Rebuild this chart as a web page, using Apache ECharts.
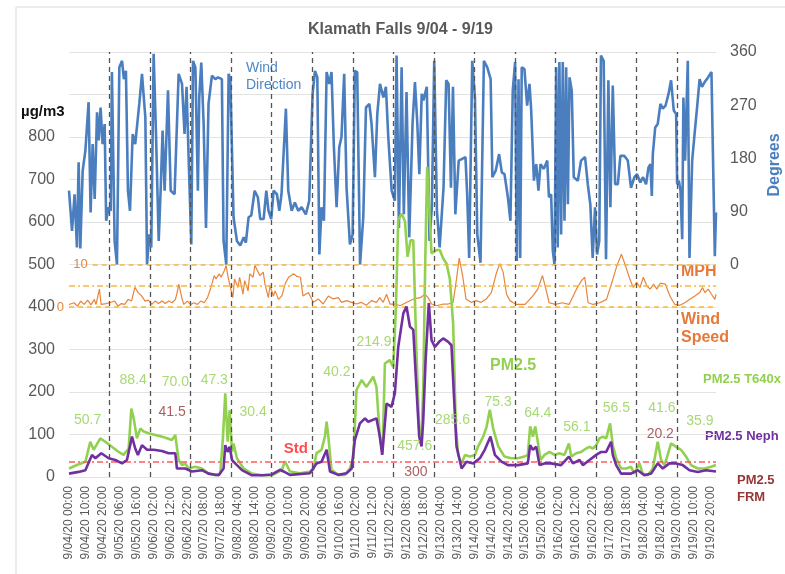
<!DOCTYPE html>
<html>
<head>
<meta charset="utf-8">
<script src="https://cdn.jsdelivr.net/npm/echarts@6/dist/echarts.min.js"></script>
<style>html,body{margin:0;padding:0;background:#fff}#c{width:785px;height:574px}</style>
</head>
<body>
<div id="c"></div>
<script>
// Hours since 9/04/20 00:00 and values
const windDir = [[0,125],[1.8,57],[3.3,119],[4.7,29],[5.7,173],[6.7,27],[8.1,159],[9.7,193],[11.6,275],[12.8,88],[14,204],[15.2,111],[16.6,258],[17.6,210],[18.7,266],[19.9,204],[21.1,238],[22,74],[23.5,97],[24.7,91],[25.4,326],[27,40],[28.4,0],[29.8,334],[31.4,345],[32.5,314],[33.7,328],[34.9,125],[36.1,91],[37.7,221],[39.2,204],[41.6,272],[43.2,323],[45.2,249],[46.2,0],[47.5,51],[48.7,29],[50.1,357],[51.5,221],[53.1,40],[54.3,130],[55.4,227],[56.6,125],[58.6,295],[60.2,125],[62.5,119],[64.9,323],[66.9,306],[68.4,221],[69.6,301],[70.8,182],[72.4,34],[73.4,345],[74.8,334],[76.3,125],[77.1,283],[78.3,342],[79.7,238],[81.1,62],[82.6,272],[84.6,320],[86.6,314],[88.2,317],[90.5,314],[91.5,40],[93.1,0],[94.5,323],[95.5,314],[97.4,80],[99.4,40],[101.4,32],[103.4,46],[104.7,37],[106.3,80],[107.9,83],[109.9,125],[111.8,114],[113.2,77],[115.2,77],[116.8,125],[118.1,91],[119.7,77],[121.1,125],[123.1,119],[124.5,91],
[125.8,119],[128.4,264],[129.8,125],[131.8,91],[133.7,105],[135.7,91],[137.7,97],[140.2,85],[142.2,108],[144.2,289],[145.6,328],[147,317],[148.2,17],[149.5,97],[150.9,74],[152.5,326],[154.1,306],[155.4,326],[156.8,199],[158.4,97],[160,199],[161.3,216],[162.9,323],[164.3,130],[166.3,34],[167.9,51],[169.2,328],[170.6,326],[172.3,0],[174.2,80],[175.8,266],[177.8,272],[179.1,238],[181.1,148],[182.5,255],[184.1,306],[186.1,283],[187.6,301],[189,216],[191,125],[192.9,108],[193.9,354],[195.3,62],[196.9,334],[198.2,85],[199.8,292],[201.4,46],[203.4,241],[204.8,309],[206.2,238],[207.4,153],[208.8,289],[209.8,278],[211.8,301],[213.4,40],[214.8,97],[216.2,345],[217.8,91],[219.4,29],[221.7,130],[223.3,312],[224.7,306],[226.1,130],[227.3,301],[228.7,85],[230.7,176],[232.7,179],[234.7,182],[235.7,119],[236.9,11],[238.7,345],[240.3,283],[241.7,51],[243.6,3],[245.6,345],[247.6,334],[249.6,314],[250.6,148],[252.6,159],[254.6,187],[256.2,156],
[257.8,153],[259.8,114],[261.3,74],[262.7,295],[264.1,343],[265.1,6],[266.1,314],[267.1,11],[268,334],[269.6,331],[271.2,269],[272.6,306],[273.6,261],[275.2,142],[276.6,170],[277.9,125],[279.1,170],[281.1,162],[283.1,176],[284.1,114],[285.4,119],[286.4,23],[287.4,0],[288.4,334],[289.3,29],[290.3,343],[291.3,51],[292.3,343],[293.3,74],[294.3,334],[295.3,102],[296.3,317],[297.6,295],[298.8,148],[301.2,142],[303.1,176],[305.5,182],[307.1,136],[308.6,102],[310,11],[311.4,97],[312.6,17],[313.9,40],[314.9,354],[316.5,345],[317.9,9],[319.3,312],[320.5,97],[321.9,303],[323.3,136],[324.9,136],[326.4,184],[328.8,184],[330.8,176],[332.7,130],[334.7,148],[336.3,153],[338.2,139],[339.8,148],[341.6,136],[343,164],[344.2,170],[345,116],[345.6,187],[347,232],[348.5,238],[350.1,272],[351.5,264],[353.1,269],[354.9,289],[356.4,312],[358,261],[359.4,255],[360,136],[361,142],[362,125],[363,43],[363.7,283],[364.7,176],[366.3,345],[367.3,11],[368.9,176],[370.3,221],[371.9,269],[373.3,314],[374.7,301],[376.3,309],[378.3,317],[380.3,326],[381.3,323],[382.3,14],[383,88]];

const windSpeed = [[0,0.6],[3,1.0],[5,0.2],[7,1.4],[9,0.6],[11,1.6],[13,0.5],[15,1.8],[16,0.6],[18,4.2],[19,0.6],[22,0.8],[24,1.0],[25,0.6],[27,1.4],[29,0.2],[31,0.8],[33,0.6],[35,1.8],[37,1.4],[39,4.6],[41,3.4],[43,2.6],[45,1.4],[47,1.6],[49,0.6],[51,1.4],[53,0.8],[55,1.4],[57,0.8],[59,1.4],[61,1.0],[63,1.8],[64,3.4],[65,5.4],[67,1.8],[68,0.6],[70,1.4],[72,0.6],[74,1.0],[76,0.6],[78,1.4],[80,1.0],[82,2.2],[84,4.6],[86,7.4],[87,6.6],[89,7.8],[90,7.0],[92,8.6],[93,9.8],[94,7.4],[96,3.8],[97,2.2],[98,6.6],[100,4.6],[101,7.0],[103,3.0],[104,6.2],[106,3.8],[107,7.8],[109,7.0],[110,9.8],[112,8.2],[113,7.4],[115,8.2],[116,5.4],[118,2.2],[119,5.0],[121,2.6],[122,3.8],[124,1.8],[126,2.6],[128,5.5],[130,7.0],[133,7.8],[135,7.2],[137,7.0],[138.5,2.6],[141.7,3.4],[144.6,1.1],[147.5,1.9],[150.5,0.7],[153.5,2.6],[156.4,1.9],[159.4,2.2],[161.3,1.1],[164.3,1.5],[167.3,1.1],[170.2,0.7],[173,1.1],[176,0.4],[179,1.5],[182,1.1],[184,2.2],[186,1.1],[188,3.0],[190,0.7],[193,0.7],[196,0.3],[200,1.1],[204,1.9],[208,2.2],[210.7,3.0],[212.6,2.2],[214.6,0.7],[217.6,0.3],[221.5,0.7],[224.5,0.7],[227.4,1.1],[229.4,6.6],[231,11.5],[233,7.4],[235,1.9],[238,1.1],[241,1.5],[244,1.1],[247,1.9],[250,3.4],[253,8.0],[255,10.2],[257,8.2],[259,3.0],[261,1.5],[263,1.0],[265,0.6],[270,0.6],[274.6,2.6],[277.5,4.2],[280.3,7.4],[282.3,4.2],[284.2,1.0],[288,0.6],[292,1.0],[296,0.6],[300.4,4.2],[303.4,6.2],[305.3,7.0],[307.3,1.0],[310.3,0.6],[314.2,1.0],[318.2,1.8],[322,6.6],[324.4,9.8],[327,12.4],[329,10.2],[332,6.6],[334,4.6],[336,5.8],[338,4.6],[340,7.0],[342,5.0],[344,4.2],[346,5.4],[348,4.2],[350,5.6],[353,5.4],[355.7,2.6],[358.6,0.6],[361.6,0.4],[364.5,1.0],[367.5,1.8],[370.5,2.6],[373.4,3.4],[375,4.6],[376.4,3.4],[378.4,4.2],[380.3,3.0],[382.3,1.8],[383,3.0]];

const pmT640x = [[0,20],[5.7,30],[9.7,36],[12.6,83],[14.6,64],[18.5,91],[21.5,83],[25.4,71],[29.4,59],[32.3,52],[35.3,67],[36.9,161],[38.3,138],[40.2,91],[42.2,114],[44.2,107],[47.1,103],[51.1,99],[55,95],[58,91],[60.9,87],[62.9,99],[64.9,40],[66.9,28],[68.8,32],[70.8,20],[74.8,24],[78.7,20],[82.6,8],[86.6,4],[89.5,8],[91.1,91],[92.5,197],[93.9,83],[95.1,157],[96.5,59],[97.4,79],[99.4,44],[103.4,20],[108.3,8],[114.2,4],[120.1,4],[126,16],[127.8,37],[130.8,13],[136.7,9],[142.6,13],[144.6,17],[146.5,56],[149.5,64],[151.5,95],[152.5,130],[153.5,95],[155.4,17],[159.4,5],[163.3,5],[166.3,20],[168.3,44],[170.2,205],[173.2,228],[176.1,212],[180.1,236],[182,212],[184,95],[185.6,56],[187,267],[189.9,275],[191.9,259],[193.5,393],[194.9,605],[196.9,620],[198.9,601],[200.4,518],[202.2,557],[203.8,557],[205.7,290],[207.3,110],[208.7,95],[209.7,212],[210.9,510],[212,730],[213,652],[214.6,526],[217.6,534],[219.5,534],[221.5,514],[223.5,502],[225.4,467],[227.4,361],[229,118],[230.4,52],[232.4,32],[234.4,52],[237.3,48],[240.3,52],[242.2,72],[245.2,95],[247.2,118],[249.1,158],[251.1,114],[254.1,72],[257.8,48],[261.7,44],[265.7,44],[269.6,48],[271.6,52],[273,119],[274.6,95],[276,119],[277.5,83],[279.1,40],[281.5,52],[284.4,59],[287.4,52],[290.3,56],[293.3,52],[295.9,79],[297.3,48],[300.2,56],[303.2,59],[306.1,67],[308.1,71],[310.1,67],[312.1,75],[314,91],[316,95],[318,91],[320.3,126],[321.9,75],[323.9,44],[326.8,20],[329.8,20],[332.7,24],[334.7,8],[337.7,32],[339.6,8],[342.6,4],[345.6,20],[348.5,83],[350.5,40],[352.5,28],[354.4,52],[356.4,79],[359.4,71],[362.3,64],[365.3,48],[368.2,28],[372.2,20],[376.1,20],[380.1,24],[383,28]];

const pmNeph = [[0,8],[5.7,12],[9.7,16],[13.6,52],[15.6,44],[19.1,56],[23.5,44],[27.4,40],[31.4,32],[34.3,40],[37.3,95],[39.2,67],[40.8,52],[43.2,75],[46.2,64],[50.1,64],[55,61],[59,56],[62.9,56],[63.9,20],[68.8,20],[72.8,13],[78.7,16],[82.6,8],[88.6,4],[91.5,20],[92.5,75],[93.9,59],[95.1,71],[96.5,40],[98.4,32],[102.4,16],[108.3,4],[114.2,4],[120.1,6],[124.9,17],[127,13],[130.8,5],[142.6,9],[146.5,32],[149.5,36],[152.5,64],[154.5,13],[159.4,5],[164.3,9],[167.3,20],[169.2,87],[172.2,126],[175.2,138],[177.1,130],[182,138],[184,95],[185.4,52],[188,173],[190.9,165],[192.9,197],[194.9,306],[197.9,385],[199.8,401],[201.8,354],[203.8,346],[205.3,236],[207.3,95],[208.7,72],[209.7,134],[211.1,275],[213,409],[214.6,322],[216.6,306],[219.1,318],[221.5,326],[224.5,318],[226.4,310],[227.8,197],[229.4,72],[232.4,20],[235.3,36],[239.3,32],[243.2,44],[246.1,64],[249.5,95],[252.1,52],[256,36],[259.8,28],[265.7,28],[271.6,32],[273,75],[274.6,64],[276.6,71],[278.5,28],[281.5,32],[285.4,32],[291.3,28],[295.9,48],[298.3,32],[302.2,40],[304.2,28],[308.1,40],[312.1,52],[315,59],[318,59],[320.9,83],[321.9,52],[323.9,28],[326.8,8],[332.7,8],[336.7,16],[340.6,4],[344.6,8],[348.5,32],[351.5,20],[355.4,32],[359.4,32],[363.3,28],[367.3,16],[372.2,12],[377.1,16],[383,13]];

// Daily average annotations [hour, y-position value, text]
const t640Labels = [[11,134,'50.7'],[38,228,'88.4'],[63,224,'70.0'],[86,228,'47.3'],[109,153,'30.4'],[158.6,247,'40.2'],[180.5,318,'214.9'],[204.7,73,'457.6'],[227,134,'285.6'],[254,177,'75.3'],[277.5,150,'64.4'],[300.6,118,'56.1'],[324,162,'56.5'],[351,162,'41.6'],[373.5,132,'35.9']];
const frmLabels = [[61,153,'41.5'],[205.3,12,'300'],[350,101,'20.2']];
const stdLabel = [[134.3,66,'Std']];
const pmStandard = 35;
const mphLines = [0, 5, 10];
const startDay = 4;
const numDays = 16;

const pad = n => (n < 10 ? '0' : '') + n;
const dayLines = [];
for (let d = 1; d < numDays; d++) dayLines.push({ xAxis: d * 24 });

const chart = echarts.init(document.getElementById('c'), null, { renderer: 'canvas' });
const FONT = 'Liberation Sans, Arial, sans-serif';
const labelSeries = (arr, color, size, weight, z) => ({
  type: 'scatter', data: arr, symbolSize: 1, silent: true, z: z || 10,
  itemStyle: { color: 'rgba(0,0,0,0)' },
  label: { show: true, position: 'inside', formatter: p => p.data[2], color: color, fontSize: size, fontWeight: weight, fontFamily: FONT }
});

chart.setOption({
  animation: false,
  title: { text: 'Klamath Falls 9/04 - 9/19', left: 303, top: 17, textStyle: { fontSize: 16, fontWeight: 'bold', color: '#595959', fontFamily: FONT } },
  grid: { left: 69, right: 69, top: 52, bottom: 97 },
  xAxis: {
    type: 'value', min: 0, max: 383, interval: 10,
    axisLine: { show: false }, axisTick: { show: false }, splitLine: { show: false },
    axisLabel: { rotate: 90, margin: 9, fontSize: 12, color: '#595959', fontFamily: FONT,
      formatter: v => (v % 10 !== 0) ? '' : '9/' + pad(startDay + Math.floor(v / 24)) + '/20 ' + pad(v % 24) + ':00' }
  },
  yAxis: [
    { type: 'value', min: 0, max: 1000, interval: 100,
      axisLine: { show: false }, axisTick: { show: false },
      splitLine: { lineStyle: { color: '#e3e3e3', width: 1 } },
      axisLabel: { margin: 14, fontSize: 16, color: '#595959', fontFamily: FONT, formatter: v => v <= 800 ? v : '' } },
    { type: 'value', min: -360, max: 360, interval: 90, position: 'right',
      axisLine: { show: false }, axisTick: { show: false }, splitLine: { show: false },
      axisLabel: { margin: 14, fontSize: 16, color: '#595959', fontFamily: FONT, formatter: v => v >= 0 ? v : '' } },
    { type: 'value', min: -40, max: 60, show: false }
  ],
  series: [
    { name: 'Wind Direction', type: 'line', yAxisIndex: 1, data: windDir, showSymbol: false, symbol: 'none',
      lineStyle: { color: '#4a7ebf', width: 2.6 }, z: 2 },
    { name: 'Wind Speed', type: 'line', yAxisIndex: 2, data: windSpeed, showSymbol: false, symbol: 'none',
      lineStyle: { color: '#e8853a', width: 1.2 }, z: 3,
      markLine: { silent: true, symbol: ['none', 'none'], animation: false,
        data: [
          [{ coord: [14, mphLines[2]], label: { show: true, position: 'start', formatter: String(mphLines[2]), color: '#e8853a', fontSize: 13, fontFamily: FONT } }, { coord: [383, mphLines[2]] }],
          [{ coord: [0, mphLines[1]], lineStyle: { type: [6, 3, 2, 3] } }, { coord: [383, mphLines[1]] }],
          [{ coord: [0, mphLines[0]], label: { show: true, position: 'start', formatter: String(mphLines[0]), color: '#e8853a', fontSize: 13, fontFamily: FONT } }, { coord: [383, mphLines[0]] }]
        ],
        label: { show: false },
        lineStyle: { color: '#f6b93b', width: 1.5, type: [5, 4] } } },
    { name: 'PM2.5 T640x', type: 'line', data: pmT640x, showSymbol: false, symbol: 'none',
      lineStyle: { color: '#92d050', width: 2.6 }, z: 4,
      markLine: { silent: true, symbol: ['none', 'none'], animation: false, label: { show: false },
        data: [{ yAxis: pmStandard, lineStyle: { color: '#ff5b5b', width: 1.5, type: [6, 3, 2, 3] } }].concat(
          dayLines.map(d => Object.assign({}, d, { lineStyle: { color: '#555', width: 1.3, type: [5, 4] } }))) } },
    { name: 'PM2.5 Neph', type: 'line', data: pmNeph, showSymbol: false, symbol: 'none',
      lineStyle: { color: '#7030a0', width: 2.6 }, z: 5 },
    labelSeries(t640Labels, '#92d050', 14, 'normal'),
    labelSeries(frmLabels, '#953735', 14, 'normal'),
    labelSeries(stdLabel, '#ff2020', 15, 'bold')
  ],
  graphic: [
    { type: 'rect', shape: { x: 16, y: 7, width: 800, height: 620 }, style: { fill: 'none', stroke: '#d9d9d9', lineWidth: 1 }, silent: true, z: -1 },
    { type: 'text', left: 246, top: 60, style: { text: 'Wind\nDirection', fill: '#4f86c6', fontSize: 14, lineHeight: 17, fontFamily: FONT } },
    { type: 'text', left: 21, top: 104, style: { text: 'µg/m3', fill: '#111', fontSize: 15, fontWeight: 'bold', fontFamily: FONT } },
    { type: 'text', x: 775, y: 165, rotation: Math.PI / 2, style: { text: 'Degrees', fill: '#4a7ebf', fontSize: 16, fontWeight: 'bold', fontFamily: FONT, align: 'center', verticalAlign: 'middle' } },
    { type: 'text', left: 681, top: 264, style: { text: 'MPH', fill: '#e5793a', fontSize: 16, fontWeight: 'bold', fontFamily: FONT } },
    { type: 'text', left: 681, top: 311, style: { text: 'Wind\nSpeed', fill: '#e5793a', fontSize: 16, fontWeight: 'bold', lineHeight: 18, fontFamily: FONT } },
    { type: 'text', left: 490, top: 358, style: { text: 'PM2.5', fill: '#92d050', fontSize: 16, fontWeight: 'bold', fontFamily: FONT } },
    { type: 'text', left: 703, top: 373, style: { text: 'PM2.5 T640x', fill: '#92d050', fontSize: 13, fontWeight: 'bold', fontFamily: FONT } },
    { type: 'text', left: 705, top: 430, style: { text: 'PM2.5 Neph', fill: '#7030a0', fontSize: 13, fontWeight: 'bold', fontFamily: FONT } },
    { type: 'text', left: 737, top: 472, style: { text: 'PM2.5\nFRM', fill: '#953735', fontSize: 13, fontWeight: 'bold', lineHeight: 17, fontFamily: FONT } }
  ]
});
</script>
</body>
</html>
